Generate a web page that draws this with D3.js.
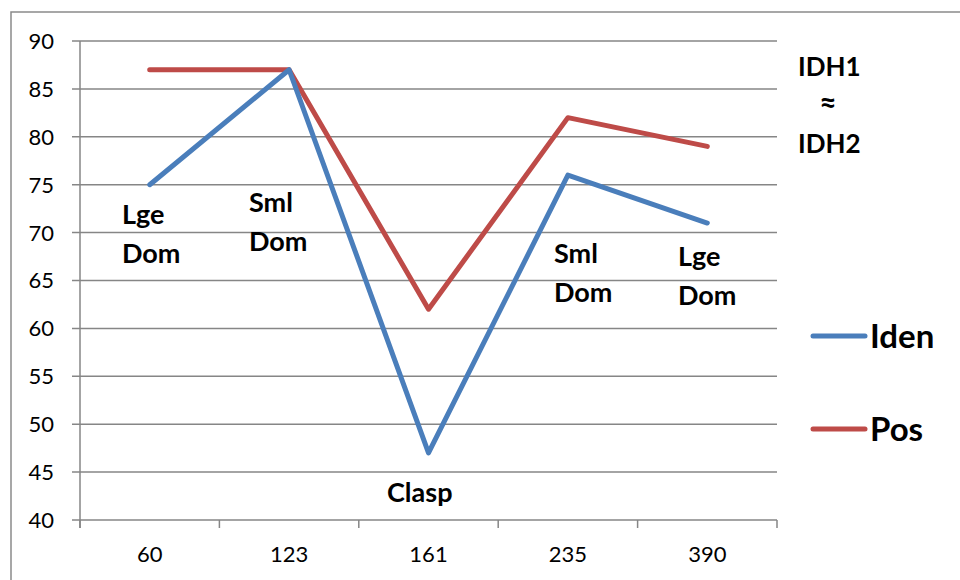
<!DOCTYPE html>
<html><head><meta charset="utf-8">
<script src="https://cdn.jsdelivr.net/npm/d3@7"></script>
<style>body{margin:0;background:#fff;} svg{display:block;}</style>
</head><body><svg id="c" width="960" height="580"></svg>
<script>
const categories = ["60","123","161","235","390"];
const idenValues = [75, 87, 47, 76, 71];
const posValues = [87, 87, 62, 82, 79];
const yTicks = [40,45,50,55,60,65,70,75,80,85,90];
const seriesNames = ["Iden","Pos"];
const annotations = [
  {lines:["Lge","Dom"], x:122, y:224},
  {lines:["Sml","Dom"], x:249, y:212},
  {lines:["Clasp"], x:387, y:502},
  {lines:["Sml","Dom"], x:554, y:263},
  {lines:["Lge","Dom"], x:678, y:266}
];

const svg = d3.select("#c");
const font = "Lato, Carlito, 'Open Sans', sans-serif";
const grid = "#868686";
const L = 80, R = 777, T = 41, B = 520;

// outer frame
svg.append("path").attr("d","M11,580 L11,12 L960,12").attr("fill","none").attr("stroke","#8a8a8a").attr("stroke-width",1.5);

const x = d3.scaleBand().domain(categories).range([L,R]).padding(0);
const y = d3.scaleLinear().domain([40,90]).range([B,T]);

// gridlines
svg.append("g").selectAll("line").data(yTicks).join("line")
  .attr("x1",L-8).attr("x2",R).attr("y1",d=>y(d)).attr("y2",d=>y(d))
  .attr("stroke",grid).attr("stroke-width",1.5);
// y axis line
svg.append("line").attr("x1",L).attr("x2",L).attr("y1",T).attr("y2",B+8).attr("stroke",grid).attr("stroke-width",1.5);
// x ticks at band boundaries
const bounds = categories.map(c=>x(c)).concat([R]);
svg.append("g").selectAll("line").data(bounds).join("line")
  .attr("x1",d=>d).attr("x2",d=>d).attr("y1",B).attr("y2",B+8).attr("stroke",grid).attr("stroke-width",1.5);

// y labels
svg.append("g").selectAll("text").data(yTicks).join("text")
  .attr("x",54).attr("y",d=>y(d)).attr("dy","0.36em").attr("text-anchor","end")
  .attr("font-family",font).attr("font-size",22).attr("fill","#000").text(d=>d);
// x labels
svg.append("g").selectAll("text").data(categories).join("text")
  .attr("x",d=>x(d)+x.bandwidth()/2).attr("y",562).attr("text-anchor","middle")
  .attr("font-family",font).attr("font-size",22).attr("fill","#000").text(d=>d);

const colors = {Iden:"#4a7ebb", Pos:"#be4b48"};
const line = d3.line().x((d,i)=>x(categories[i])+x.bandwidth()/2).y(d=>y(d));
[["Pos",posValues],["Iden",idenValues]].forEach(([n,v])=>{
  svg.append("path").datum(v).attr("d",line).attr("fill","none")
    .attr("stroke",colors[n]).attr("stroke-width",5).attr("stroke-linecap","round").attr("stroke-linejoin","round");
});

// annotations
annotations.forEach(a=>{
  const t = svg.append("text").attr("font-family",font).attr("font-weight","bold").attr("font-size",27).attr("fill","#000");
  a.lines.forEach((s,i)=>t.append("tspan").attr("x",a.x).attr("y",a.y+i*39).text(s));
});
// IDH
const idh = svg.append("g").attr("font-family",font).attr("font-weight","bold").attr("fill","#000");
idh.append("text").attr("x",798).attr("y",76).attr("font-size",26).text("IDH1");
idh.append("text").attr("x",828).attr("y",114).attr("text-anchor","middle").attr("font-size",30).text("≈");
idh.append("text").attr("x",798).attr("y",153).attr("font-size",26).text("IDH2");

// legend
const leg = [{n:"Iden",y:336},{n:"Pos",y:429}];
leg.forEach(l=>{
  svg.append("line").attr("x1",813).attr("x2",865).attr("y1",l.y).attr("y2",l.y)
    .attr("stroke",colors[l.n]).attr("stroke-width",5).attr("stroke-linecap","round");
  svg.append("text").attr("x",870).attr("y",l.y+12).attr("font-family",font).attr("font-weight","bold")
    .attr("font-size",33).attr("fill","#000").text(l.n);
});
</script></body></html>
